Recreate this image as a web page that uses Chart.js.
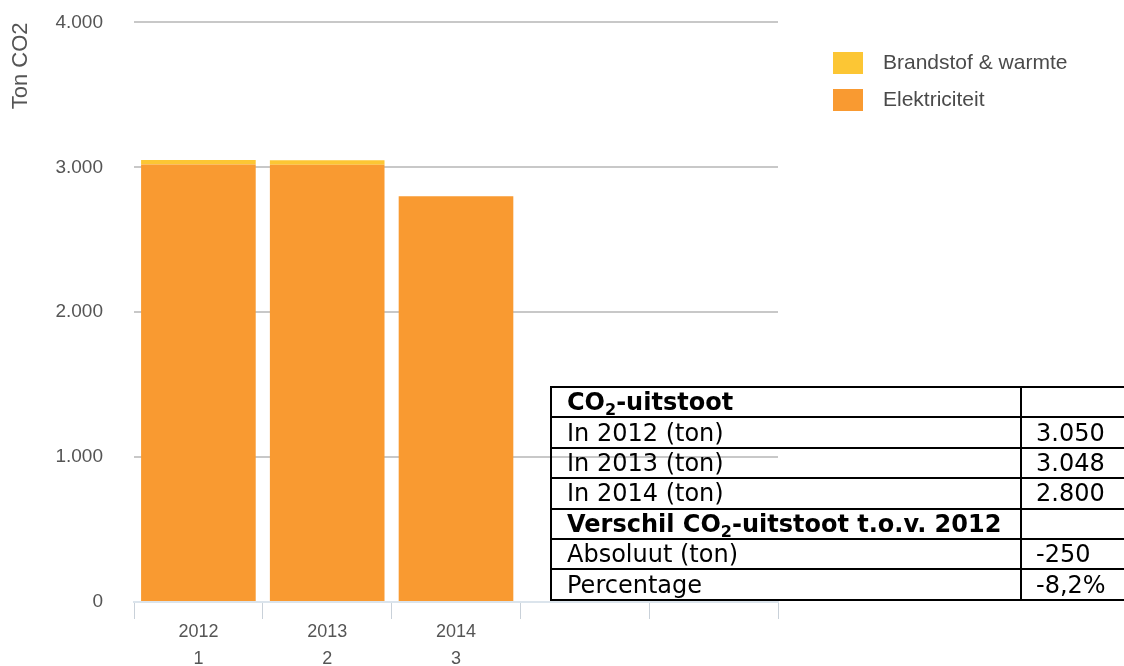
<!DOCTYPE html>
<html>
<head>
<meta charset="utf-8">
<script src="https://cdn.jsdelivr.net/npm/chart.js@4"></script>
<style>
  html, body { margin: 0; padding: 0; background: #fff; }
  #wrap { position: relative; width: 1124px; height: 666px; overflow: hidden; }
  #chart { position: absolute; left: 0; top: -20px; }
  .legend { position: absolute; left: 833px; font-family: "Liberation Sans", Arial, sans-serif; font-size: 21px; color: #4a4a4a; }
  .legend span.box { display: inline-block; width: 30px; height: 22px; vertical-align: middle; margin-right: 20px; }
  .legend div { height: 37px; line-height: 37px; }
  table.co2 { position: absolute; left: 550px; top: 386px; width: 620px; table-layout: fixed; border-collapse: collapse;
    font-family: "DejaVu Sans", Verdana, sans-serif; font-size: 24px; color: #000; }
  table.co2 td { box-sizing: border-box; border: 2px solid #000; height: 30.4px; padding: 0 0 0 15px; line-height: 28px; white-space: nowrap; overflow: hidden; }
  table.co2 td.c1 { width: 470px; }
  table.co2 td.c2 { width: 150px; padding-left: 14px; }
  table.co2 sub { font-size: 16px; line-height: 0; vertical-align: -5px; }
</style>
</head>
<body>
<div id="wrap">
  <canvas id="chart" width="1124" height="686"></canvas>
  <div class="legend" style="top:43px">
    <div><span class="box" style="background:#fcc634"></span>Brandstof &amp; warmte</div>
    <div><span class="box" style="background:#f99a31"></span>Elektriciteit</div>
  </div>
  <table class="co2">
    <tr><td class="c1"><b>CO<sub>2</sub>-uitstoot</b></td><td class="c2"></td></tr>
    <tr><td class="c1">In 2012 (ton)</td><td class="c2">3.050</td></tr>
    <tr><td class="c1">In 2013 (ton)</td><td class="c2">3.048</td></tr>
    <tr><td class="c1">In 2014 (ton)</td><td class="c2">2.800</td></tr>
    <tr><td class="c1"><b>Verschil CO<sub>2</sub>-uitstoot t.o.v. 2012</b></td><td class="c2"></td></tr>
    <tr><td class="c1">Absoluut (ton)</td><td class="c2">-250</td></tr>
    <tr><td class="c1">Percentage</td><td class="c2">-8,2%</td></tr>
  </table>
</div>
<script>
// categories: year on first line, index on second; two empty slots at the end
const years = ["2012", "2013", "2014", "", ""];
const indexes = ["1", "2", "3", "", ""];
const elektriciteit = [3020, 3018, 2800, null, null];
const brandstof = [30, 30, 0, null, null];
const yTicks = [0, 1000, 2000, 3000, 4000];

const ORANGE = "#f99a31";
const YELLOW = "#fcc634";
const FONT = "'Liberation Sans', Arial, sans-serif";

const labels = years.map((y, i) => [y, indexes[i]]);

new Chart(document.getElementById("chart"), {
  type: "bar",
  data: {
    labels,
    datasets: [
      { label: "Elektriciteit", data: elektriciteit, backgroundColor: ORANGE, borderWidth: 0 },
      { label: "Brandstof & warmte", data: brandstof, backgroundColor: YELLOW, borderWidth: 0 }
    ]
  },
  options: {
    responsive: false,
    animation: false,
    devicePixelRatio: 1,
    layout: { padding: { top: 0, right: 346, left: 0, bottom: 0 } },
    datasets: { bar: { barPercentage: 0.89, categoryPercentage: 1 } },
    plugins: { legend: { display: false }, tooltip: { enabled: false } },
    scales: {
      x: {
        stacked: true,
        afterFit(scale) { scale.height = 64; },
        border: { display: true, color: "#dbe4ec", width: 2 },
        grid: { display: true, offset: true, drawOnChartArea: false, tickLength: 17, color: "#c9d1d9" },
        ticks: { color: "#555", font: { family: FONT, size: 18, lineHeight: 1.5 }, padding: 0, maxRotation: 0 }
      },
      y: {
        stacked: true,
        min: 0,
        max: 4000,
        afterFit(scale) { scale.width = 134; },
        afterBuildTicks(scale) { scale.ticks = yTicks.map((v) => ({ value: v })); },
        border: { display: false },
        grid: {
          drawTicks: false,
          lineWidth: 2,
          color: (ctx) => (ctx.tick && ctx.tick.value === 0 ? "rgba(0,0,0,0)" : "#c8c8c8")
        },
        ticks: {
          color: "#555",
          padding: 31,
          font: { family: FONT, size: 19 },
          callback: (v) => (v === 0 ? "0" : (v / 1000).toFixed(0) + ".000")
        },
        title: {
          display: true,
          text: "Ton CO2",
          align: "end",
          color: "#555",
          font: { family: FONT, size: 22 },
          padding: { top: 8, bottom: 0 }
        }
      }
    }
  }
});
</script>
</body>
</html>
